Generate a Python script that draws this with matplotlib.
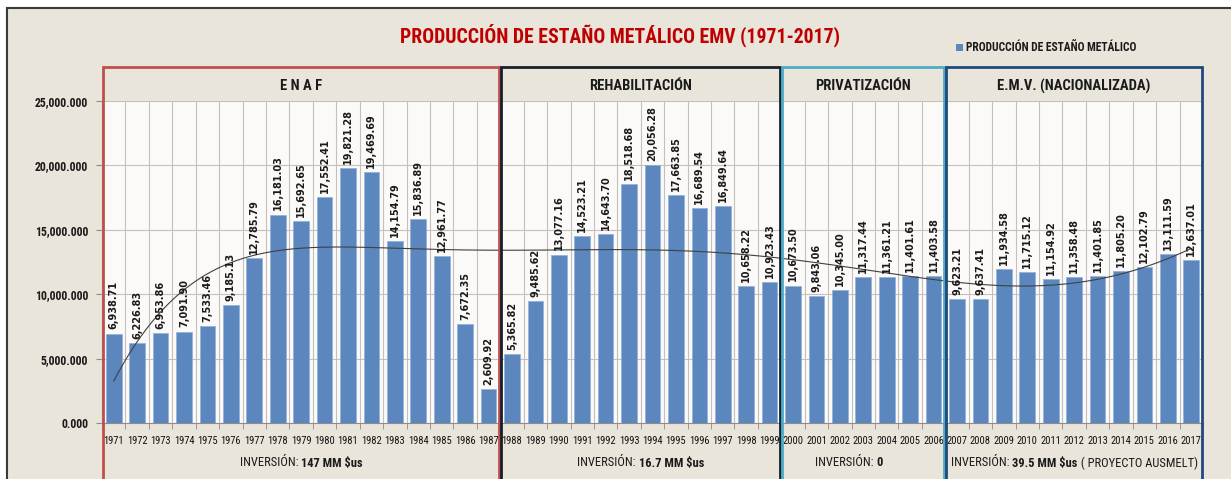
import matplotlib
matplotlib.use('Agg')
import matplotlib.pyplot as plt
import numpy as np
from matplotlib import font_manager as fm
from matplotlib.patches import Rectangle
import matplotlib.transforms as mtrans

# ---------------- data ----------------
years = list(range(1971, 2018))
produccion = [6938.71, 6226.83, 6953.86, 7091.90, 7533.46, 9185.13, 12785.79, 16181.03,
              15692.65, 17552.41, 19821.28, 19469.69, 14154.79, 15836.89, 12961.77, 7672.35,
              2609.92, 5365.82, 9485.62, 13077.16, 14523.21, 14643.70, 18518.68, 20056.28,
              17663.85, 16689.54, 16849.64, 10658.22, 10923.43, 10673.50, 9843.06, 10345.00,
              11317.44, 11361.21, 11401.61, 11403.58, 9623.21, 9637.41, 11934.58, 11715.12,
              11154.92, 11358.48, 11401.85, 11805.20, 12102.79, 13111.59, 12637.01]
periodos = ['E N A F', 'REHABILITACIÓN', 'PRIVATIZACIÓN', 'E.M.V. (NACIONALIZADA)']
periodo_inicio = [1971, 1988, 2000, 2007]
periodo_fin = [1987, 1999, 2006, 2017]
inversion_pre = ['INVERSIÓN: ', 'INVERSIÓN: ', 'INVERSIÓN: ', 'INVERSIÓN: ']
inversion_monto = ['147 MM $us', '16.7 MM $us', '0', '39.5 MM $us']
inversion_post = ['', '', '', ' ( PROYECTO AUSMELT)']
titulo = 'PRODUCCIÓN DE ESTAÑO METÁLICO EMV (1971-2017)'
leyenda = 'PRODUCCIÓN DE ESTAÑO METÁLICO'
yticks = [0, 5000, 10000, 15000, 20000, 25000]

# ---------------- fonts ----------------
avail = {f.name for f in fm.fontManager.ttflist}
def pick(*names):
    for n in names:
        if n in avail:
            return n
    return 'DejaVu Sans'
NARROW = pick('Liberation Sans Narrow', 'Roboto Condensed', 'Open Sans Condensed', 'Liberation Sans')
LABELF = pick('DejaVu Sans')

W, H = 1231, 479
fig = plt.figure(figsize=(W / 100, H / 100), dpi=100)
fig.patch.set_facecolor('white')

def fx(px):
    return px / W
def fy(py):
    return 1 - py / H

# outer chart frame
fig.patches.append(Rectangle((fx(7), fy(490)), fx(1300) - fx(7), fy(8) - fy(490),
                             transform=fig.transFigure, facecolor='#E9E5DA',
                             edgecolor='#3A3A3A', lw=1.5, zorder=-10))

L, R, T, B = 102, 1203, 101, 423
ax = fig.add_axes([fx(L), fy(B), fx(R) - fx(L), fy(T) - fy(B)])
ax.set_zorder(1)
ax.set_facecolor('#FCFAF8')

n = len(years)
x = np.arange(n)
ax.bar(x, produccion, width=0.67, color='#5B86BE', edgecolor='#8FB0DA', lw=0.5, zorder=3)

# polynomial trend line (order 6) from the data
xc = (x - x.mean()) / x.std()
coef = np.polyfit(xc, produccion, 6)
xs = np.linspace(0, n - 1, 400)
ax.plot(xs, np.polyval(coef, (xs - x.mean()) / x.std()), color='#404040', lw=0.8, zorder=4)

for xi, v in zip(x, produccion):
    ax.annotate(f'{v:,.2f}', (xi, v), xytext=(0, 3), textcoords='offset points',
                rotation=90, ha='center', va='bottom', fontsize=7, fontweight='bold',
                family=LABELF, color='#1A1A1A', zorder=5)

ax.set_xlim(-0.5, n - 0.5)
ax.set_ylim(0, 25000)
ax.set_yticks(yticks)
ax.set_yticklabels([f'{v:,.3f}' for v in yticks], fontsize=8.5, fontweight='bold',
                   family=NARROW, color='#1A1A1A')
ax.set_xticks(x)
ax.set_xticklabels([str(y) for y in years], fontsize=7.6, family=NARROW, color='#111111')
ax.tick_params(axis='x', length=0, pad=9)
ax.tick_params(axis='y', length=4, color='#8C8C8C', pad=6)
ax.set_xticks(np.arange(-0.5, n, 1), minor=True)
ax.tick_params(axis='x', which='minor', length=4, color='#8C8C8C')
ax.grid(False)
for k in range(1, n):
    ax.axvline(k - 0.5, color='#C4C0BC', lw=0.8, zorder=1)
for v in yticks[1:]:
    ax.axhline(v, color='#C4C0BC', lw=0.8, zorder=1)
for s in ['top', 'right']:
    ax.spines[s].set_visible(False)
ax.spines['left'].set_color('#8C8C8C')
ax.spines['bottom'].set_color('#8C8C8C')

# period boxes
box_colors = ['#C0504D', '#17202A', '#4BACC6', '#1F497D']
trans = mtrans.blended_transform_factory(ax.transData, ax.transAxes)
ytop = (B - 67) / (B - T)
for i, (p, a, b) in enumerate(zip(periodos, periodo_inicio, periodo_fin)):
    x0 = years.index(a) - 0.5
    x1 = years.index(b) + 0.5
    ax.add_patch(Rectangle((x0 + 0.04, -0.5), x1 - x0 - 0.08, ytop + 0.5, transform=trans,
                           fill=False, edgecolor=box_colors[i], lw=2.0, clip_on=False, zorder=6))
    ax.text((x0 + x1) / 2, (B - 86) / (B - T), p, transform=trans, ha='center', va='center',
            fontsize=10.5, fontweight='bold', family=NARROW, color='#1A1A1A')

fig.canvas.draw()
rend = fig.canvas.get_renderer()

# investment texts
inv_centers_px = []
for a, b in zip(periodo_inicio, periodo_fin):
    x0 = L + (years.index(a)) * (R - L) / n
    x1 = L + (years.index(b) + 1) * (R - L) / n
    inv_centers_px.append((x0 + x1) / 2)
inv_centers_px[2] -= 14
for c, pre, mon, post in zip(inv_centers_px, inversion_pre, inversion_monto, inversion_post):
    parts = [(pre, 'normal'), (mon, 'bold'), (post, 'normal')]
    widths = []
    objs = []
    for s, w in parts:
        t = fig.text(0, 0, s, fontsize=9, fontweight=w, family=NARROW, color='#1A1A1A',
                     va='center', ha='left')
        widths.append(t.get_window_extent(rend).width if s else 0)
        objs.append(t)
    total = sum(widths)
    start = c - total / 2
    for t, w in zip(objs, widths):
        t.set_position((fx(start), fy(463)))
        start += w

# title
fig.text(fx(620), fy(35), titulo, ha='center', va='center', fontsize=14.2, fontweight='bold',
         family=NARROW, color='#C00000')

# legend
fig.patches.append(Rectangle((fx(956), fy(51)), fx(7), fy(44) - fy(51), transform=fig.transFigure,
                             facecolor='#5B86BE', edgecolor='none'))
fig.text(fx(966), fy(47.5), leyenda, ha='left', va='center', fontsize=8.3, fontweight='bold',
         family=NARROW, color='#1A1A1A')

fig.savefig('out.png', dpi=100, facecolor=fig.get_facecolor())
